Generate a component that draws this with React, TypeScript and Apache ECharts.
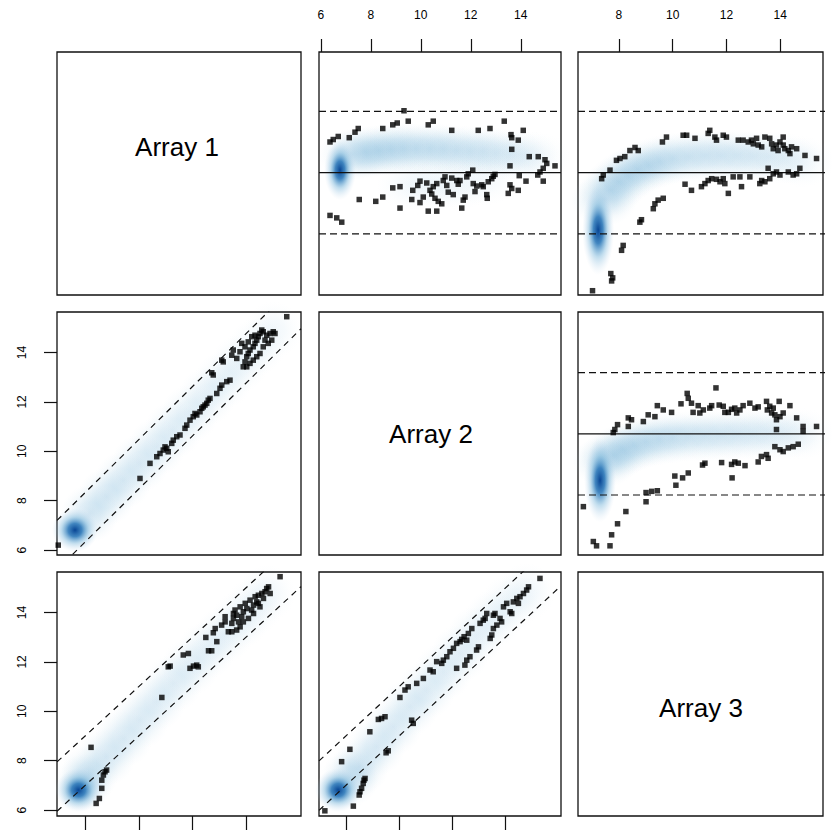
import React, { useEffect, useRef } from "react";
import * as echarts from "echarts";

// ---------------- data ----------------
const arrayNames = ["Array 1", "Array 2", "Array 3"];
const topTicksCol2 = [6, 8, 10, 12, 14];
const topTicksCol3 = [8, 10, 12, 14];
const leftTicks = [6, 8, 10, 12, 14];
const bottomTicks = [8, 10, 12, 14];
const maRefLines = [-1, 0, 1];
const foldOffsets = [1, -1];

// Row 1, col 2 : M vs A (Array 1 vs Array 2)
const p12Points = [
  [6.37, 0.5], [6.5, 0.54], [6.7, 0.59], [7.14, 0.57], [7.37, 0.66], [7.5, 0.72], [8.48, 0.72], [8.88, 0.78],
  [9.06, 0.81], [9.33, 1.01], [9.5, 0.84], [10.3, 0.78], [10.5, 0.84], [11.24, 0.69], [12.3, 0.69], [12.77, 0.72],
  [13.34, 0.84], [13.61, 0.62], [13.64, 0.57], [13.9, 0.53], [13.64, 0.38], [14.1, 0.69], [14.34, 0.26], [14.7, 0.26],
  [14.97, 0.21], [15.04, 0.15], [14.9, 0.07], [15.37, 0.11], [13.57, 0.11], [14.77, 0.01], [14.68, -0.04], [14.9, -0.14],
  [14.21, -0.14], [13.94, -0.05],
  [6.37, -0.7], [6.64, -0.74], [6.84, -0.81], [7.54, -0.44], [8.2, -0.47], [8.48, -0.4], [8.88, -0.25], [9.17, -0.23],
  [9.17, -0.58], [9.68, -0.29], [9.64, -0.44], [9.88, -0.21], [9.97, -0.14], [9.97, -0.49], [10.1, -0.4], [10.24, -0.17],
  [10.3, -0.63], [10.64, -0.63], [10.37, -0.29], [10.44, -0.35], [10.5, -0.23], [10.57, -0.42], [10.64, -0.18], [10.7, -0.47],
  [10.84, -0.51], [10.9, -0.13], [10.97, -0.07], [11.04, -0.21], [11.1, -0.32], [11.24, -0.09], [11.3, -0.36], [11.44, -0.13],
  [11.5, -0.19], [11.57, -0.13], [11.7, -0.45], [11.77, -0.4], [11.64, -0.58], [11.84, -0.07], [11.9, -0.02], [12.08, 0.04],
  [12.1, -0.18], [12.17, -0.31], [12.24, -0.22], [12.44, -0.2], [12.5, -0.23], [12.64, -0.36], [12.66, -0.42], [12.7, -0.15],
  [12.84, -0.1], [12.9, -0.06], [12.97, -0.03], [13.57, -0.2], [13.5, -0.34], [13.64, -0.26], [13.9, -0.29],
];
const p12Core = [[6.77, 0.04, 1]];
const p12Band = [
  [7.3, 0.3, 0.9], [7.8, 0.33, 0.85], [8.3, 0.36, 0.8], [8.8, 0.38, 0.75], [9.3, 0.39, 0.7], [9.8, 0.39, 0.68],
  [10.4, 0.39, 0.65], [10.9, 0.38, 0.6], [11.4, 0.36, 0.58], [12.0, 0.35, 0.55], [12.5, 0.34, 0.5], [13.0, 0.32, 0.45],
  [13.6, 0.3, 0.4], [14.1, 0.28, 0.32], [14.6, 0.25, 0.25],
  [9.6, -0.2, 0.25], [10.6, -0.2, 0.3], [11.6, -0.18, 0.25], [12.6, -0.12, 0.2],
];

// Row 1, col 3 : M vs A (Array 1 vs Array 3)
const p13Points = [
  [7.02, -1.93], [7.7, -1.65], [7.73, -1.77], [7.77, -1.72], [8.1, -1.27], [8.16, -1.19], [8.78, -0.81], [8.84, -0.77],
  [9.28, -0.59], [9.34, -0.51], [9.46, -0.45], [9.65, -0.42], [7.36, -0.1], [7.42, -0.04], [7.67, 0.04],
  [7.91, 0.2], [8.04, 0.23], [8.22, 0.26], [8.41, 0.36], [8.6, 0.41], [8.72, 0.36], [9.62, 0.5], [9.77, 0.58],
  [10.39, 0.61], [10.52, 0.61], [10.83, 0.56], [11.32, 0.64], [11.38, 0.69], [11.57, 0.58], [11.63, 0.53], [11.88, 0.61],
  [12.0, 0.58], [12.44, 0.53], [12.62, 0.53], [12.81, 0.5], [12.93, 0.53], [13.0, 0.47], [13.12, 0.56], [13.18, 0.45],
  [13.31, 0.42], [13.43, 0.58], [13.61, 0.56], [13.68, 0.47], [13.74, 0.39], [13.86, 0.45], [13.92, 0.36], [13.99, 0.5],
  [14.11, 0.58], [14.11, 0.45], [14.17, 0.39], [14.3, 0.36], [14.36, 0.31], [14.42, 0.42], [14.61, 0.39], [14.92, 0.28],
  [15.35, 0.23],
  [10.46, -0.19], [10.7, -0.29], [11.07, -0.23], [11.2, -0.18], [11.32, -0.13], [11.45, -0.1], [11.63, -0.11], [11.76, -0.15],
  [11.88, -0.1], [11.94, -0.18], [12.07, -0.34], [12.25, -0.07], [12.5, -0.07], [12.56, -0.23], [12.87, -0.07], [13.24, -0.18],
  [13.31, -0.13], [13.43, -0.15], [13.55, 0.07], [13.61, -0.1], [13.74, -0.02], [13.86, 0.01], [13.99, -0.04], [14.3, 0.01],
  [14.48, -0.04], [14.61, -0.02], [14.73, 0.07],
];
const p13Core = [[7.23, -0.94, 1]];
const p13Band = [
  [7.45, -0.45, 0.95], [7.7, -0.28, 0.9], [8.0, -0.15, 0.85], [8.35, -0.04, 0.8], [8.7, 0.05, 0.78], [9.1, 0.12, 0.75],
  [9.5, 0.18, 0.72], [10.0, 0.23, 0.7], [10.6, 0.26, 0.66], [11.2, 0.28, 0.63], [11.8, 0.28, 0.6], [12.4, 0.28, 0.56],
  [13.0, 0.27, 0.52], [13.6, 0.26, 0.46], [14.2, 0.23, 0.38], [14.8, 0.18, 0.3],
];

// Row 2, col 3 : M vs A (Array 2 vs Array 3)
const p23Points = [
  [6.68, -1.19], [7.05, -1.76], [7.17, -1.83], [7.67, -1.83], [7.73, -1.65], [7.95, -1.47], [8.26, -1.27], [9.01, -0.96],
  [9.01, -1.11], [9.22, -0.94], [9.43, -0.93], [10.08, -0.69], [10.12, -0.84], [10.37, -0.72], [10.58, -0.64], [11.11, -0.51],
  [11.2, -0.48], [11.82, -0.47], [12.21, -0.72], [12.19, -0.5], [12.31, -0.46], [12.44, -0.48], [12.69, -0.52], [13.18, -0.46],
  [13.3, -0.37], [13.49, -0.34], [13.55, -0.4], [13.8, -0.21], [13.99, -0.26], [14.11, -0.29], [14.3, -0.23], [14.48, -0.21],
  [14.67, -0.17],
  [7.79, 0.02], [7.85, 0.07], [7.95, 0.15], [8.35, 0.12], [8.35, 0.26], [8.47, 0.23], [8.91, 0.2], [9.09, 0.31],
  [9.34, 0.28], [9.43, 0.46], [9.65, 0.39], [9.96, 0.35], [10.31, 0.49], [10.54, 0.66], [10.58, 0.58], [10.7, 0.5],
  [10.76, 0.35], [10.95, 0.46], [11.01, 0.34], [11.14, 0.39], [11.38, 0.42], [11.45, 0.46], [11.61, 0.75], [11.73, 0.47],
  [11.88, 0.45], [11.94, 0.35], [12.07, 0.35], [12.19, 0.4], [12.31, 0.42], [12.38, 0.34], [12.5, 0.39], [12.62, 0.46],
  [12.87, 0.5], [13.18, 0.44], [13.49, 0.53], [13.52, 0.39], [13.61, 0.45], [13.68, 0.34], [13.74, 0.42], [13.8, 0.31],
  [13.86, 0.23], [13.96, 0.53], [13.99, 0.28], [14.11, 0.34], [14.36, 0.46], [14.61, 0.26], [14.85, 0.12], [13.86, 0.07],
  [14.85, 0.04], [15.35, 0.12], [13.06, 0.42],
];
const p23Core = [[7.3, -0.76, 1]];
const p23Band = [
  [7.5, -0.45, 0.95], [7.8, -0.35, 0.9], [8.15, -0.26, 0.85], [8.55, -0.19, 0.8], [9.0, -0.13, 0.75], [9.5, -0.09, 0.72],
  [10.0, -0.06, 0.7], [10.6, -0.04, 0.66], [11.2, -0.03, 0.62], [11.8, -0.02, 0.58], [12.4, -0.01, 0.54], [13.0, 0.0, 0.5],
  [13.6, 0.01, 0.45], [14.2, 0.0, 0.38], [14.8, 0.0, 0.3],
];

// Row 2, col 1 : Array 2 vs Array 1
const p21Points = [
  [6.25, 6.2], [9.52, 8.9], [9.92, 9.51], [10.19, 9.78], [10.32, 9.91], [10.45, 10.05], [10.59, 10.12], [10.65, 9.98],
  [10.52, 10.18], [10.79, 10.32], [10.85, 10.45], [10.99, 10.59], [11.12, 10.66], [11.32, 10.93], [11.39, 11.06], [11.52, 11.26],
  [11.65, 11.4], [11.72, 11.53], [11.79, 11.47], [11.92, 11.6], [11.99, 11.74], [12.05, 11.8], [12.12, 11.87], [12.19, 11.94],
  [12.25, 12.07], [12.32, 12.14], [12.39, 13.18], [12.45, 13.09], [12.59, 12.34], [12.72, 12.55], [12.79, 12.68], [12.99, 12.82],
  [13.12, 12.88], [12.79, 13.69], [12.85, 13.62], [13.19, 13.89], [13.25, 14.1], [13.52, 14.03], [13.39, 13.76], [13.65, 13.42],
  [13.72, 13.62], [13.79, 13.83], [13.85, 13.96], [13.92, 14.1], [14.05, 14.23], [14.12, 14.37], [14.19, 14.5], [14.25, 14.64],
  [14.32, 14.77], [14.39, 14.91], [14.45, 14.84], [14.52, 14.5], [14.59, 14.7], [14.72, 14.77], [14.85, 14.84], [14.92, 14.77],
  [14.79, 14.5], [14.65, 14.37], [14.45, 14.23], [14.32, 13.96], [14.19, 13.83], [14.05, 13.69], [13.92, 13.56], [13.79, 13.42],
  [13.72, 14.23], [13.59, 14.37], [13.85, 14.43], [13.99, 14.64], [14.12, 14.7], [15.39, 15.45],
];
const p21Core = [[6.92, 6.81, 1]];
const p21Band = [
  [7.52, 7.48, 0.95], [8.19, 8.16, 0.88], [8.85, 8.83, 0.82], [9.52, 9.51, 0.76], [10.19, 10.18, 0.7], [10.85, 10.86, 0.65],
  [11.52, 11.53, 0.6], [12.19, 12.21, 0.55], [12.85, 12.88, 0.5], [13.52, 13.56, 0.45], [14.19, 14.23, 0.38], [14.85, 14.91, 0.3],
];

// Row 3, col 1 : Array 3 vs Array 1
const p31Points = [
  [8.22, 8.54], [8.41, 6.27], [8.53, 6.47], [8.62, 6.88], [8.62, 7.21], [8.68, 7.42], [8.74, 7.55], [8.8, 7.62],
  [10.86, 10.56], [11.1, 11.8], [11.17, 11.83], [11.66, 12.28], [11.85, 12.34], [11.91, 11.74], [12.04, 11.83], [12.16, 11.87],
  [12.22, 11.8], [12.5, 12.99], [12.6, 12.45], [12.72, 12.45], [12.78, 13.18], [12.85, 13.35], [12.91, 12.82], [13.09, 13.49],
  [13.22, 13.62], [13.22, 13.83], [13.34, 13.22], [13.47, 13.22], [13.47, 13.56], [13.53, 13.76], [13.53, 13.96], [13.59, 14.1],
  [13.65, 13.89], [13.72, 13.62], [13.78, 14.23], [13.84, 13.83], [13.9, 14.03], [13.97, 14.37], [14.03, 14.16], [14.09, 13.76],
  [14.15, 14.5], [14.21, 14.1], [14.28, 14.3], [14.34, 14.64], [14.4, 14.43], [14.46, 14.7], [14.52, 14.23], [14.59, 14.77],
  [14.65, 14.57], [14.71, 14.84], [14.77, 14.97], [14.84, 15.04], [14.9, 14.77], [15.27, 15.45], [13.78, 13.42], [13.9, 13.62],
  [13.65, 13.29], [14.28, 13.96], [14.46, 14.37],
];
const p31Core = [[7.75, 6.81, 1]];
const p31Band = [
  [7.95, 7.1, 0.95], [8.18, 7.48, 0.9], [8.8, 8.16, 0.85], [9.43, 8.9, 0.8], [10.05, 9.64, 0.75], [10.67, 10.39, 0.7],
  [11.29, 11.13, 0.65], [11.91, 11.8, 0.6], [12.53, 12.48, 0.55], [13.16, 13.09, 0.5], [13.78, 13.69, 0.44], [14.28, 14.23, 0.36],
  [14.77, 14.77, 0.3],
];

// Row 3, col 2 : Array 3 vs Array 2
const p32Points = [
  [7.21, 5.97], [8.28, 6.16], [8.5, 6.61], [8.53, 6.74], [8.59, 6.88], [8.65, 7.08], [8.68, 7.21], [8.72, 7.28],
  [7.84, 7.96], [8.15, 8.46], [8.9, 9.17], [9.22, 9.67], [9.34, 9.71], [9.47, 9.78], [9.59, 8.4], [9.51, 8.32],
  [10.47, 9.64], [10.53, 9.51], [10.03, 10.56], [10.22, 10.86], [10.34, 10.99], [10.66, 11.13], [10.91, 11.33], [11.16, 11.67],
  [11.28, 11.6], [11.41, 12.01], [11.66, 12.07], [11.6, 11.94], [12.16, 11.74], [12.47, 11.87], [12.54, 12.07], [12.66, 12.21],
  [11.79, 12.21], [11.91, 12.41], [12.04, 12.55], [12.16, 12.75], [12.29, 12.82], [12.35, 12.91], [12.44, 13.02], [12.54, 12.88],
  [12.6, 13.15], [12.73, 13.35], [12.91, 12.48], [12.98, 12.61], [13.04, 13.56], [13.16, 13.69], [13.23, 13.76], [13.42, 12.95],
  [13.48, 13.09], [13.54, 13.35], [13.6, 13.96], [13.67, 13.49], [13.79, 13.76], [13.85, 13.62], [13.92, 14.23], [14.04, 14.37],
  [14.17, 14.03], [14.23, 13.96], [14.29, 14.43], [14.42, 14.57], [14.48, 14.37], [14.54, 14.64], [14.67, 14.77], [14.79, 14.91],
  [14.86, 15.04], [15.29, 15.38], [13.54, 13.89], [13.29, 13.96],
];
const p32Core = [[7.71, 6.81, 1]];
const p32Band = [
  [8.15, 7.3, 0.95], [8.53, 7.75, 0.9], [9.15, 8.56, 0.85], [9.78, 9.37, 0.8], [10.41, 10.18, 0.75], [11.03, 10.86, 0.7],
  [11.66, 11.6, 0.65], [12.29, 12.34, 0.6], [12.91, 13.09, 0.54], [13.54, 13.76, 0.47], [14.17, 14.37, 0.4], [14.79, 14.84, 0.32],
];

// ---------------- layout / style ----------------
const COLS = [[57, 244], [319, 242], [578, 245]];
const ROWS = [[52, 243], [312, 243], [572, 244]];
const FONT = '"Liberation Sans", Arial, Helvetica, sans-serif';
const TEXT_POS = [[177, 147], [431, 434], [701, 708]];

type Panel = {
  r: number; c: number; kind: "ma" | "xy";
  xr: number[]; yr: number[];
  pts: number[][]; core: number[][]; band: number[][];
  coreSize: number[]; bandSize: number[];
  top?: number[]; left?: number[]; bottom?: number[]; extendTo?: number;
};

const panels: Panel[] = [
  { r: 0, c: 1, kind: "ma", xr: [5.93, 15.61], yr: [-2.0, 1.97], pts: p12Points, core: p12Core, band: p12Band, coreSize: [32, 60], bandSize: [70, 52], top: topTicksCol2 },
  { r: 0, c: 2, kind: "ma", xr: [6.48, 15.59], yr: [-2.0, 1.97], pts: p13Points, core: p13Core, band: p13Band, coreSize: [32, 90], bandSize: [66, 52], top: topTicksCol3, extendTo: 16.0 },
  { r: 1, c: 2, kind: "ma", xr: [6.48, 15.59], yr: [-1.98, 1.99], pts: p23Points, core: p23Core, band: p23Band, coreSize: [32, 84], bandSize: [66, 52], extendTo: 16.0 },
  { r: 1, c: 0, kind: "xy", xr: [6.2, 15.96], yr: [5.8, 15.64], pts: p21Points, core: p21Core, band: p21Band, coreSize: [46, 44], bandSize: [58, 58], left: leftTicks },
  { r: 2, c: 0, kind: "xy", xr: [6.95, 16.05], yr: [5.76, 15.64], pts: p31Points, core: p31Core, band: p31Band, coreSize: [46, 44], bandSize: [58, 58], left: leftTicks, bottom: bottomTicks },
  { r: 2, c: 1, kind: "xy", xr: [6.99, 16.08], yr: [5.76, 15.64], pts: p32Points, core: p32Core, band: p32Band, coreSize: [46, 44], bandSize: [58, 58], bottom: bottomTicks },
];

const coreGradient = {
  type: "radial", x: 0.5, y: 0.5, r: 0.5,
  colorStops: [
    { offset: 0, color: "rgba(8,69,148,1)" },
    { offset: 0.3, color: "rgba(33,113,181,0.85)" },
    { offset: 0.6, color: "rgba(107,174,214,0.42)" },
    { offset: 1, color: "rgba(198,219,239,0)" },
  ],
};
const bandGradient = {
  type: "radial", x: 0.5, y: 0.5, r: 0.5,
  colorStops: [
    { offset: 0, color: "rgba(74,152,201,0.26)" },
    { offset: 0.4, color: "rgba(107,174,214,0.2)" },
    { offset: 0.75, color: "rgba(158,202,225,0.08)" },
    { offset: 1, color: "rgba(198,219,239,0)" },
  ],
};

function buildOption() {
  const grid: any[] = [];
  const xAxis: any[] = [];
  const yAxis: any[] = [];
  const series: any[] = [];
  const labelStyle = { fontSize: 12, color: "#000", fontFamily: FONT };

  for (let r = 0; r < 3; r++) {
    for (let c = 0; c < 3; c++) {
      const i = r * 3 + c;
      grid.push({
        left: COLS[c][0], top: ROWS[r][0], width: COLS[c][1], height: ROWS[r][1],
        show: true, borderColor: "#111", borderWidth: 1.3, backgroundColor: "transparent",
        containLabel: false, outerBoundsMode: "none",
      });
      const p = panels.find((q) => q.r === r && q.c === c);
      if (!p) {
        xAxis.push({ type: "value", gridIndex: i, min: 0, max: 1, show: false });
        yAxis.push({ type: "value", gridIndex: i, min: 0, max: 1, show: false });
        continue;
      }
      const xt = p.top || p.bottom;
      xAxis.push({
        type: "value", gridIndex: i, min: p.xr[0], max: p.xr[1],
        position: p.top ? "top" : "bottom",
        axisLine: { show: false, onZero: false },
        splitLine: { show: false },
        axisTick: xt
          ? { show: true, length: p.top ? 13 : 16, customValues: xt, lineStyle: { color: "#111", width: 1.2 } }
          : { show: false },
        axisLabel: p.top
          ? { show: true, customValues: p.top, margin: 31, ...labelStyle }
          : { show: false },
      });
      yAxis.push({
        type: "value", gridIndex: i, min: p.yr[0], max: p.yr[1], position: "left",
        axisLine: { show: false, onZero: false },
        splitLine: { show: false },
        axisTick: p.left
          ? { show: true, length: 13, customValues: p.left, lineStyle: { color: "#111", width: 1.2 } }
          : { show: false },
        axisLabel: p.left
          ? { show: true, customValues: p.left, rotate: 90, margin: 29, ...labelStyle }
          : { show: false },
      });

      const ma = p.kind === "ma";
      // density band
      series.push({
        type: "scatter", xAxisIndex: i, yAxisIndex: i, silent: true, z: 1,
        symbol: "circle", symbolSize: p.bandSize,
        itemStyle: { color: bandGradient },
        data: p.band.map((d) => ({ value: [d[0], d[1]], itemStyle: { opacity: d[2] } })),
      });
      // density core
      series.push({
        type: "scatter", xAxisIndex: i, yAxisIndex: i, silent: true, z: 2,
        symbol: "circle", symbolSize: p.coreSize,
        itemStyle: { color: coreGradient },
        data: p.core.map((d) => ({ value: [d[0], d[1]], itemStyle: { opacity: d[2] } })),
      });
      // reference lines
      if (ma) {
        maRefLines.forEach((m) => {
          series.push({
            type: "line", xAxisIndex: i, yAxisIndex: i, silent: true, z: 3,
            symbol: "none", clip: !p.extendTo,
            lineStyle: { color: "#111", width: 1.2, type: m === 0 ? "solid" : [7, 4] },
            data: [[p.xr[0], m], [p.extendTo || p.xr[1], m]],
          });
        });
      } else {
        foldOffsets.forEach((o) => {
          series.push({
            type: "line", xAxisIndex: i, yAxisIndex: i, silent: true, z: 3,
            symbol: "none", clip: true,
            lineStyle: { color: "#111", width: 1.2, type: [6, 5] },
            data: [[p.xr[0], p.xr[0] + o], [p.xr[1], p.xr[1] + o]],
          });
        });
      }
      // outlying points
      series.push({
        type: "scatter", xAxisIndex: i, yAxisIndex: i, silent: true, z: 4,
        symbol: "rect", symbolSize: 5.5,
        itemStyle: { color: "#000" },
        data: p.pts,
      });
    }
  }

  const graphic = arrayNames.map((name, k) => ({
    type: "text", x: TEXT_POS[k][0], y: TEXT_POS[k][1], silent: true,
    style: {
      text: name, font: `26px ${FONT}`, fill: "#000",
      align: "center", verticalAlign: "middle", textAlign: "center", textVerticalAlign: "middle",
    },
  }));

  return { animation: false, backgroundColor: "#fff", grid, xAxis, yAxis, series, graphic };
}

export default function App() {
  const ref = useRef<HTMLDivElement>(null);
  useEffect(() => {
    if (!ref.current) return;
    const chart = echarts.init(ref.current, undefined, { renderer: "svg" });
    chart.setOption(buildOption() as any);
    return () => chart.dispose();
  }, []);
  return (
    <div
      ref={ref}
      style={{ position: "fixed", left: 0, top: 0, width: 832, height: 830, background: "#fff" }}
    />
  );
}
